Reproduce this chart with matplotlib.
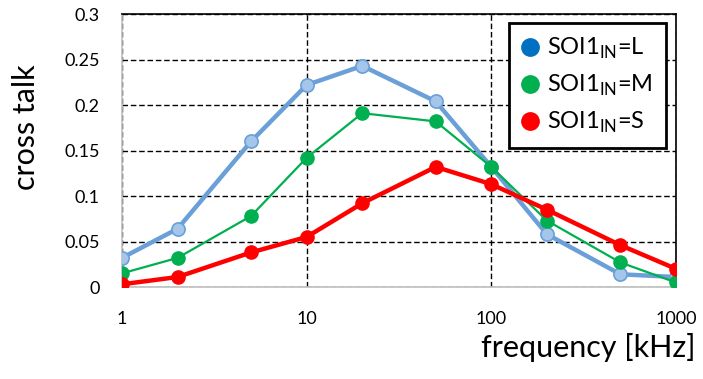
import matplotlib
matplotlib.use('Agg')
import matplotlib.pyplot as plt
from matplotlib.lines import Line2D

plt.rcParams['font.family'] = ['Lato', 'DejaVu Sans']
plt.rcParams['mathtext.fontset'] = 'custom'
plt.rcParams['mathtext.rm'] = 'Lato'

# データ
freq = [1, 2, 5, 10, 20, 50, 100, 200, 500, 1000]
soi_L = [0.032, 0.064, 0.160, 0.222, 0.243, 0.204, 0.132, 0.058, 0.014, 0.011]
soi_M = [0.015, 0.032, 0.078, 0.142, 0.191, 0.182, 0.132, 0.073, 0.027, 0.005]
soi_S = [0.003, 0.011, 0.038, 0.055, 0.092, 0.132, 0.113, 0.085, 0.046, 0.020]
labels = ['SOI1$_{\\rm IN}$=L', 'SOI1$_{\\rm IN}$=M', 'SOI1$_{\\rm IN}$=S']
yticks = [0, 0.05, 0.1, 0.15, 0.2, 0.25, 0.3]
yticklabels = ['0', '0.05', '0.1', '0.15', '0.2', '0.25', '0.3']

fig = plt.figure(figsize=(7.03, 3.79), dpi=100)
ax = fig.add_axes([0.1735, 0.2427, 0.788, 0.7203])

ax.plot(freq, soi_L, color='#6A9FD8', lw=3.2, marker='o', ms=9.5,
        mfc='#A4C6EA', mec='#6A9FD8', mew=1.2, zorder=3)
ax.plot(freq, soi_M, color='#00B050', lw=1.6, marker='o', ms=9.5,
        mfc='#00B050', mec='#00B050', zorder=4)
ax.plot(freq, soi_S, color='#FF0000', lw=3.2, marker='o', ms=9.5,
        mfc='#FF0000', mec='#FF0000', zorder=5)

ax.set_xscale('log')
ax.set_xlim(1, 1000)
ax.set_ylim(0, 0.3)
ax.set_xticks([1, 10, 100, 1000])
ax.set_xticklabels(['1', '10', '100', '1000'])
ax.minorticks_off()
ax.set_yticks(yticks)
ax.set_yticklabels(yticklabels)
ax.tick_params(labelsize=13, length=0)
ax.tick_params(axis='y', pad=16)
ax.tick_params(axis='x', pad=17)

ax.grid(True, color='black', ls='--', lw=1, dashes=(4, 2))
for s in ['top', 'right']:
    ax.spines[s].set_color('black')
    ax.spines[s].set_linewidth(1.2)
for s in ['left', 'bottom']:
    ax.spines[s].set_color('#BFBFBF')
    ax.spines[s].set_linewidth(1.2)

ax.set_ylabel('cross talk', fontsize=22)
ax.yaxis.set_label_coords(-0.148, 0.586)
ax.set_xlabel('frequency [kHz]', fontsize=22, loc='right')
ax.xaxis.set_label_coords(1.036, -0.17)

handles = [Line2D([], [], ls='none', marker='o', ms=12.5, color=c)
           for c in ['#0070C0', '#00B050', '#FF0000']]
leg = ax.legend(handles, labels, loc='upper right', bbox_to_anchor=(0.982, 0.967),
                borderaxespad=0, fontsize=17, frameon=True, fancybox=False,
                framealpha=1, handlelength=0.6, handletextpad=0.45,
                labelspacing=0.5, borderpad=0.55)
leg.get_frame().set_edgecolor('black')
leg.get_frame().set_linewidth(2)

fig.savefig('out.png', dpi=100)
